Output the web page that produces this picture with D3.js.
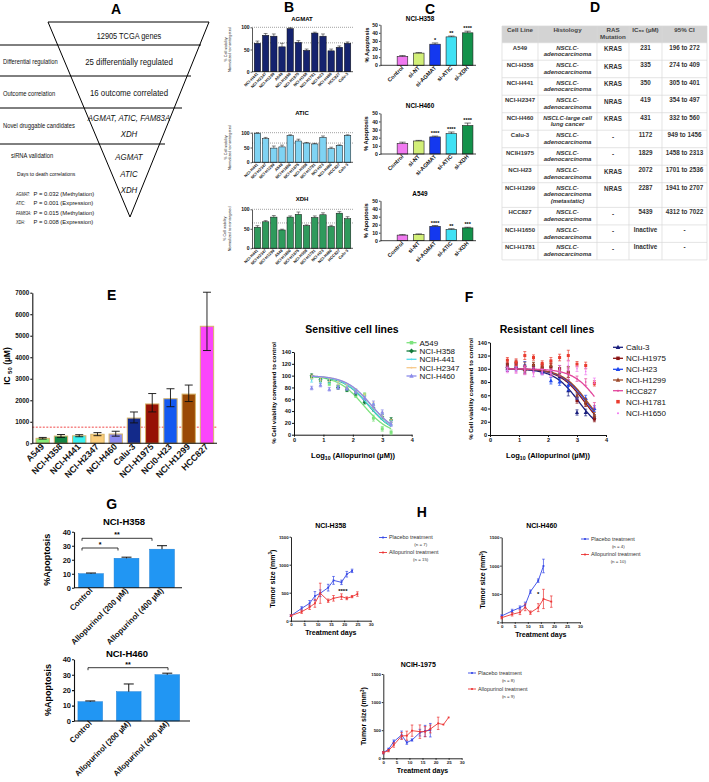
<!DOCTYPE html>
<html><head><meta charset="utf-8">
<script src="https://cdn.jsdelivr.net/npm/d3@7"></script>
<style>body{margin:0;background:#fff}svg{display:block}</style>
</head><body><svg id="c" width="709" height="782"></svg>
<script>
// ================= DATA =================
// Panel A
const funnelTiers = ["12905  TCGA genes", "25 differentially regulated", "16 outcome correlated"];
const funnelSteps = ["Differential regulation", "Outcome correlation", "Novel druggable candidates"];
const candidateGenes = ["AGMAT, ATIC, FAM83A", "XDH"];
const validatedGenes = ["AGMAT", "ATIC", "XDH"];
const survivalGenes = ["AGMAT:", "ATIC:", "FAM83A:", "XDH:"];
const survivalP = ["P = 0.032 (Methylation)", "P = 0.001 (Expression)", "P = 0.015 (Methylation)", "P = 0.008 (Expression)"];
// Panel B
const bCellLines = ["NCI-H441","NCI-H2347","NCI-H1299","A549","NCI-H1650","NCI-H1975","NCI-H358","NCI-H1781","NCI-H23","NCI-H460","HCC827","Calu-3"];
const bAGMAT = [64,82,80,56,97,66,48,87,80,47,55,64];
const bAGMATerr = [5,4,5,8,2,4,3,2,5,4,3,3];
const bATIC = [98,80,48,52,90,72,65,62,84,46,57,91];
const bATICerr = [2,4,7,6,3,6,2,2,5,5,2,2];
const bXDH = [54,68,80,47,80,87,58,79,86,56,90,76];
const bXDHerr = [4,3,4,2,3,6,2,4,5,3,4,5];
// Panel C
const cGroups = ["Control","si-NT","si-AGMAT","si-ATIC","si-XDH"];
const cH358 = [11,15,26,35,40], cH358err = [1,0.7,1.5,1,2], cH358sig = ["","","*","**","****"];
const cH460 = [13,16,21,25,35], cH460err = [1.5,0.7,1,2,3], cH460sig = ["","","****","****","****"];
const cA549 = [7,8,18,14,16], cA549err = [0.6,0.5,1,1,0.8], cA549sig = ["","","****","**","***"];
// Panel D
const tHeader = [["Cell Line"],["Histology"],["RAS","Mutation"],["IC\u2085\u2080 (\u00b5M)"],["95% CI"]];
const tLines = ["A549","NCI-H358","NCI-H441","NCI-H2347","NCI-H460","Calu-3","NCIH1975","NCI-H23","NCI-H1299","HCC827","NCI-H1650","NCI-H1781"];
const tHist = [["NSCLC-","adenocarcinoma"],["NSCLC-","adenocarcinoma"],["NSCLC-","adenocarcinoma"],["NSCLC-","adenocarcinoma"],["NSCLC-large cell","lung cancer"],["NSCLC-","adenocarcinoma"],["NSCLC-","adenocarcinoma"],["NSCLC-","adenocarcinoma"],["NSCLC-","adenocarcinoma","(metastatic)"],["NSCLC-","adenocarcinoma"],["NSCLC-","adenocarcinoma"],["NSCLC-","adenocarcinoma"]];
const tRAS = ["KRAS","KRAS","KRAS","NRAS","KRAS","-","-","KRAS","NRAS","-","-","-"];
const tIC50 = ["231","335","350","419","431","1172","1829","2072","2287","5439","Inactive","Inactive"];
const tCI = ["196 to 272","274 to 409","305 to 401","354 to 497","332 to 560","949 to 1456","1458 to 2313","1701 to 2536","1941 to 2707","4312 to 7022","-","-"];
// Panel E
const eLines = ["A549","NCI-H358","NCI-H441","NCI-H2347","NCI-H460","Calu-3","NCI-H1975","NCI0-H23","NCI-H1299","HCC827"];
const eIC50 = [231,335,350,419,431,1172,1829,2072,2287,5439];
const eLow = [196,274,305,354,332,949,1458,1701,1941,4312];
const eHigh = [272,409,401,497,560,1456,2313,2536,2707,7022];
const eThreshold = 750;
const eTicks = [0,1000,2000,3000,4000,5000,6000,7000];
// Dose response (sensitive)
const sensDose = [0.6,0.9,1.2,1.5,1.8,2.1,2.4,2.7,3.0,3.3];
const sensNames = ["A549","NCI-H358","NCIH-441","NCI-H2347","NCI-H460"];
const sensLogIC50 = [2.36,2.53,2.54,2.62,2.63];
const sensA549 = [97,92,86,82,76,66,68,28,10,4];
const sensH358 = [100,93,92,80,76,70,55,45,30,25];
const sensH441 = [92,90,90,85,80,74,63,48,33,20];
const sensH2347 = [98,94,93,87,82,75,66,50,34,22];
const sensH460 = [79,84,77,80,78,72,62,52,38,18];
const sensErr = [3,3,3,3,3,3,3,5,4,4];
// Dose response (resistant)
const resDose = [0.6,0.9,1.2,1.5,1.8,2.1,2.4,2.7,3.0,3.3,3.6];
const resNames = ["Calu-3","NCI-H1975","NCI-H23","NCI-H1299","HCC827","NCI-H1781","NCI-H1650"];
const resLogIC50 = [3.07,3.26,3.32,3.36,3.74,null,null];
const resCalu3 = [104,104,100,100,98,97,88,67,34,34,27];
const resH1975 = [106,108,98,105,103,103,100,95,52,48,24];
const resH23 = [100,102,105,100,95,82,80,75,58,55,40];
const resH1299 = [103,106,104,106,102,105,97,95,60,50,30];
const resHCC827 = [100,100,99,98,96,95,94,92,85,80,45];
const resH1781 = [113,110,120,117,108,112,117,120,107,105,78];
const resH1650 = [98,98,97,92,95,93,100,105,100,96,82];
const resErr = [4,5,6,4,4,5,5,8,4,5,4];
// Panel G
const gGroups = ["Control","Allopurinol (200 \u00b5M)","Allopurinol (400 \u00b5M)"];
const gH358 = [10,21,27.5], gH358err = [0.5,0.8,2.5];
const gH460 = [12.5,19,30], gH460err = [0.5,5,1];
// Panel H
const hH358PlDays = [0,4,7,9,11,14,16,19,21,23];
const hH358Pl = [90,220,310,440,490,590,720,685,830,890];
const hH358PlErr = [15,30,50,80,60,60,70,40,50,30];
const hH358AlDays = [0,4,7,9,11,14,16,19,21,23,25];
const hH358Al = [90,160,240,310,490,357,400,430,400,430,476];
const hH358AlErr = [15,30,40,70,180,30,50,50,25,20,40];
const hH460PlDays = [0,4,7,9,11,14,16];
const hH460Pl = [112,200,259,306,541,735,994];
const hH460PlErr = [20,30,30,50,30,30,120];
const hH460AlDays = [0,4,7,9,11,14,16,19];
const hH460Al = [82,141,176,265,170,259,412,365];
const hH460AlErr = [20,30,40,60,30,70,170,100];
const hH1975PlDays = [0,2,4,7,9,11,14,16,18];
const hH1975Pl = [100,160,296,415,279,326,456,486,500];
const hH1975PlErr = [20,20,30,70,30,20,60,100,120];
const hH1975AlDays = [0,2,4,7,9,11,14,16,18,21,23,25];
const hH1975Al = [100,136,237,397,403,492,474,474,522,622,600,727];
const hH1975AlErr = [20,20,40,60,80,100,120,90,70,110,0,0];
const hTicksY = [0,500,1000,1500];
const hTicksX = [0,5,10,15,20,25,30];

// ================= DRAWING =================
const SANS = "'Liberation Sans', Arial, Helvetica, sans-serif";
const fmtInt = d3.format("d");
const svg = d3.select("#c");
function T(g,x,y,s,o){o=o||{};const t=g.append("text").attr("x",x).attr("y",y)
  .attr("font-size",o.s||6).attr("font-family",SANS).attr("text-anchor",o.a||"start")
  .attr("fill",o.c||"#000").text(s);
  if(o.b)t.attr("font-weight","bold"); if(o.i)t.attr("font-style","italic");
  if(o.r!=null)t.attr("transform",`rotate(${o.r},${x},${y})`); return t;}
function NT(g,x,y,s,size,sx,o){o=o||{};const t=g.append("text")
  .attr("transform",`translate(${x},${y}) scale(${sx},1)`).attr("font-size",size)
  .attr("font-family",SANS).attr("text-anchor",o.a||"start").attr("fill","#111").text(s);
  if(o.i)t.attr("font-style","italic"); if(o.b)t.attr("font-weight","bold"); return t;}
function panelLabel(x,y,s){T(svg,x,y,s,{s:14,b:1,a:"middle"});}

// ---------- Panel A ----------
(function(){
  const g=svg.append("g");
  panelLabel(116,13.5,"A");
  g.append("path").attr("d","M48,22L209,22L130,217Z").attr("fill","none").attr("stroke","#000").attr("stroke-width",1);
  [[45,201],[76,191],[108,182],[144,165]].forEach(p=>g.append("line").attr("x1",0).attr("x2",p[1]).attr("y1",p[0]).attr("y2",p[0]).attr("stroke","#000").attr("stroke-width",1));
  const tierY=[38.5,65,95.5];
  funnelTiers.forEach((s,i)=>NT(g,129,tierY[i],s,i===0?9:9.6,0.82,{a:"middle"}));
  const stepY=[64,95.5,128];
  funnelSteps.forEach((s,i)=>NT(g,3,stepY[i],s,6.6,0.88));
  NT(g,129,121,candidateGenes[0],9.6,0.82,{a:"middle",i:1});
  NT(g,129,136.5,candidateGenes[1],9.6,0.82,{a:"middle",i:1});
  [160,176.5,192.5].forEach((y,i)=>NT(g,129,y,validatedGenes[i],9.6,0.82,{a:"middle",i:1}));
  NT(g,11,158,"siRNA validation",6.6,0.88);
  NT(g,17,176,"Days to death correlations",5.6,0.9);
  [195.5,205,214.5,224].forEach((y,i)=>{NT(g,16,y,survivalGenes[i],5.2,0.72,{i:1});NT(g,33.5,y,survivalP[i],5.6,1.05);});
})();

// ---------- generic bar chart ----------
function barChart(o){
  const g=svg.append("g");
  const x=d3.scaleBand().domain(o.cats).range(o.xr).paddingInner(o.pi).paddingOuter(o.po);
  const y=d3.scaleLinear().domain([0,o.yMax]).range([o.y0,o.yT]);
  (o.refs||[]).forEach(r=>g.append("line").attr("x1",o.ax).attr("x2",o.axEnd).attr("y1",y(r)).attr("y2",y(r))
     .attr("stroke","#444").attr("stroke-width",0.5).attr("stroke-dasharray","1,1"));
  if(o.thr!=null) g.append("line").attr("x1",o.ax).attr("x2",o.axEnd).attr("y1",y(o.thr)).attr("y2",y(o.thr))
     .attr("stroke","#e33").attr("stroke-width",0.9).attr("stroke-dasharray","2,1.5");
  g.selectAll("rect.bar").data(o.vals).join("rect").attr("class","bar")
    .attr("x",(d,i)=>x(o.cats[i])).attr("y",d=>y(d)).attr("width",x.bandwidth()).attr("height",d=>y(0)-y(d))
    .attr("fill",(d,i)=>Array.isArray(o.fill)?o.fill[i]:o.fill).attr("stroke",o.stroke).attr("stroke-width",o.sw);
  const cw=o.cap||x.bandwidth()*0.3;
  o.vals.forEach((v,i)=>{
    const cx=x(o.cats[i])+x.bandwidth()/2;
    const hi=o.hi?o.hi[i]:v+o.errs[i], lo=o.lo?o.lo[i]:v;
    g.append("line").attr("x1",cx).attr("x2",cx).attr("y1",y(lo)).attr("y2",y(hi)).attr("stroke","#111").attr("stroke-width",o.ew);
    g.append("line").attr("x1",cx-cw).attr("x2",cx+cw).attr("y1",y(hi)).attr("y2",y(hi)).attr("stroke","#111").attr("stroke-width",o.ew);
    if(o.lo) g.append("line").attr("x1",cx-cw).attr("x2",cx+cw).attr("y1",y(lo)).attr("y2",y(lo)).attr("stroke","#111").attr("stroke-width",o.ew);
    if(o.sig&&o.sig[i]) T(g,cx,y(hi)-0.8,o.sig[i],{s:o.sigS||6,a:"middle",b:1});
  });
  const gy=g.append("g").attr("transform",`translate(${o.ax},0)`)
    .call(d3.axisLeft(y).tickValues(o.ticks).tickFormat(fmtInt).tickSize(o.ts).tickSizeOuter(0).tickPadding(o.tp||1));
  gy.selectAll("text").attr("font-size",o.tfs).attr("font-weight","bold").attr("font-family",SANS).attr("fill","#111");
  gy.selectAll("path,line").attr("stroke","#111").attr("stroke-width",o.aw);
  g.append("line").attr("x1",o.ax).attr("x2",o.axEnd).attr("y1",o.y0).attr("y2",o.y0).attr("stroke","#111").attr("stroke-width",o.aw);
  o.cats.forEach((c,i)=>{const cx=x(c)+x.bandwidth()/2+(o.lx||0);
    T(g,cx,o.y0+o.ly,c,{s:o.lfs,b:o.lb,a:"end",r:-45,c:"#111"});});
  if(o.title) T(g,o.title[0],o.title[1],o.title[2],{s:o.title[3],b:1,a:"middle"});
  return {g,x,y};
}

// ---------- Panel B ----------
panelLabel(289,12,"B");
const bPanels=[
  {name:"AGMAT",vals:bAGMAT,errs:bAGMATerr,fill:"#15236e",yT:27.3,y0:71.7,ty:21},
  {name:"ATIC",vals:bATIC,errs:bATICerr,fill:"#7fd3f3",yT:132.7,y0:162.3,ty:114.5},
  {name:"XDH",vals:bXDH,errs:bXDHerr,fill:"#2f9a5c",yT:209.3,y0:248.3,ty:200.5}];
bPanels.forEach(p=>{
  const r=barChart({cats:bCellLines,vals:p.vals,errs:p.errs,fill:p.fill,stroke:"#111",sw:0.5,
    xr:[253,352],pi:0.22,po:0.15,yMax:100,yT:p.yT,y0:p.y0,ax:252,axEnd:353,refs:[100,65],
    ticks:[0,50,100],ts:1.5,tfs:5,aw:0.7,ew:0.5,lfs:4,lb:1,ly:2.5,lx:1,
    title:[302,p.ty,p.name,6]});
  const cy=(p.yT+p.y0)/2;
  T(r.g,226.5,cy,"% Cell viability",{s:3.8,a:"middle",r:-90,c:"#222"});
  T(r.g,231,cy,"Normalized to nontargeted",{s:3.8,a:"middle",r:-90,c:"#222"});
});

// ---------- Panel C ----------
panelLabel(430,13.5,"C");
const cColors=["#f07af0","#d2ef78","#1438ef","#3fe1f4","#13924b"];
[{t:"NCI-H358",v:cH358,e:cH358err,s:cH358sig,yT:24.7,y0:65.3,ty:21},
 {t:"NCI-H460",v:cH460,e:cH460err,s:cH460sig,yT:113.3,y0:154,ty:108},
 {t:"A549",v:cA549,e:cA549err,s:cA549sig,yT:200.7,y0:240.7,ty:195.5}].forEach(p=>{
  const r=barChart({cats:cGroups,vals:p.v,errs:p.e,fill:cColors,stroke:"#222",sw:0.6,
    xr:[394.3,475.8],pi:0.35,po:0.175,yMax:50,yT:p.yT,y0:p.y0,ax:380.5,axEnd:476,
    ticks:[0,10,20,30,40,50],ts:1.5,tfs:5.2,aw:0.8,ew:0.6,lfs:5.6,lb:1,ly:3,lx:1.5,sig:p.s,sigS:5.5,
    title:[420,p.ty,p.t,6.4]});
  T(r.g,368.5,(p.yT+p.y0)/2,"% Apoptosis",{s:5.8,b:1,a:"middle",r:-90});
});

// ---------- Panel D (table) ----------
(function(){
  panelLabel(595,12,"D");
  const g=svg.append("g");
  const colX=[502,538,597,629,662,707];
  const rowH=tHist.map(h=>h.length===3?24.7:17.5);
  const top=26, headH=16.7;
  g.append("rect").attr("x",colX[0]).attr("y",top).attr("width",colX[5]-colX[0]).attr("height",headH).attr("fill","#d3d3d3");
  let ys=[top,top+headH]; rowH.forEach(h=>ys.push(ys[ys.length-1]+h));
  ys.forEach(y=>g.append("line").attr("x1",colX[0]).attr("x2",colX[5]).attr("y1",y).attr("y2",y).attr("stroke","#d8d8d8").attr("stroke-width",0.7));
  colX.forEach(x=>g.append("line").attr("x1",x).attr("x2",x).attr("y1",top).attr("y2",ys[ys.length-1]).attr("stroke","#d8d8d8").attr("stroke-width",0.7));
  const cx=colX.slice(0,5).map((x,i)=>(x+colX[i+1])/2);
  tHeader.forEach((h,i)=>h.forEach((s,j)=>T(g,cx[i],32.3+j*7,s,{s:6.2,b:1,a:"middle",c:"#444"})));
  tLines.forEach((s,r)=>{
    const y=ys[r+1]+7;
    T(g,cx[0],y,s,{s:6,b:1,a:"middle",c:"#333"});
    tHist[r].forEach((h,j)=>T(g,cx[1],y+j*6.7,h,{s:6,b:1,i:1,a:"middle",c:"#333"}));
    T(g,cx[2],y+1.5,tRAS[r],{s:6.3,b:1,a:"middle",c:"#333"});
    T(g,cx[3],y,tIC50[r],{s:6.3,b:1,a:"middle",c:"#333"});
    T(g,cx[4],y,tCI[r],{s:6.3,b:1,a:"middle",c:"#333"});
  });
})();

// ---------- Panel E ----------
panelLabel(111.7,300,"E");
(function(){
  const eColors=["#86ec78","#128645","#38efef","#fbcd7a","#8a8af0","#132a8a","#961205","#1459f0","#9a4a05","#fb45fb"];
  const r=barChart({cats:eLines,vals:eIC50,lo:eLow,hi:eHigh,fill:eColors,stroke:"#d6b46a",sw:1,
    xr:[33.6,216.1],pi:0.27,po:0.135,yMax:7000,yT:292.7,y0:443.3,ax:32.3,axEnd:217,thr:eThreshold,
    ticks:eTicks,ts:2,tfs:6.3,aw:1.1,ew:0.9,cap:4,lfs:8.8,lb:1,ly:4,lx:2});
  const t=r.g.append("text").attr("transform","translate(9.5,366) rotate(-90)").attr("text-anchor","middle")
    .attr("font-family",SANS).attr("font-weight","bold").attr("font-size",8.5);
  t.append("tspan").text("IC ");
  t.append("tspan").attr("font-size",6).attr("dy",2).text("50");
  t.append("tspan").attr("dy",-2).text(" (\u00b5M)");
})();

// ---------- markers ----------
function marker(g,type,cx,cy,sz,col){
  if(type==="square") g.append("rect").attr("x",cx-sz/2).attr("y",cy-sz/2).attr("width",sz).attr("height",sz).attr("fill",col);
  else if(type==="diamond") g.append("path").attr("d",`M${cx},${cy-sz*0.7}L${cx+sz*0.7},${cy}L${cx},${cy+sz*0.7}L${cx-sz*0.7},${cy}Z`).attr("fill",col);
  else if(type==="triangle") g.append("path").attr("d",`M${cx},${cy-sz*0.65}L${cx+sz*0.6},${cy+sz*0.45}L${cx-sz*0.6},${cy+sz*0.45}Z`).attr("fill",col);
  else if(type==="circle") g.append("circle").attr("cx",cx).attr("cy",cy).attr("r",sz/2).attr("fill",col);
}

// ---------- dose response panels ----------
function dosePanel(o){
  const g=svg.append("g");
  const x=d3.scaleLinear().domain([0,4]).range([o.ax,o.x4]);
  const y=d3.scaleLinear().domain([0,140]).range([o.y0,o.yT]);
  const gx=g.append("g").attr("transform",`translate(0,${o.y0})`).call(d3.axisBottom(x).tickValues([0,1,2,3,4]).tickFormat(fmtInt).tickSize(2).tickSizeOuter(0).tickPadding(1));
  const gy=g.append("g").attr("transform",`translate(${o.ax},0)`).call(d3.axisLeft(y).tickValues(d3.range(0,141,20)).tickFormat(fmtInt).tickSize(2).tickSizeOuter(0).tickPadding(1));
  [gx,gy].forEach(a=>{a.selectAll("text").attr("font-size",5.6).attr("font-weight","bold").attr("font-family",SANS).attr("fill","#111");
    a.selectAll("path,line").attr("stroke","#111").attr("stroke-width",1);});
  const line=d3.line().x(d=>x(d[0])).y(d=>y(d[1]));
  o.series.forEach(s=>{
    if(s.ic!=null){
      const xs=d3.range(s.dose[0],s.dose[s.dose.length-1]+0.001,0.02);
      g.append("path").attr("d",line(xs.map(v=>[v,100/(1+Math.pow(10,(v-s.ic)*o.hill))]))).attr("fill","none").attr("stroke",s.col).attr("stroke-width",1.3);
    }
    s.vals.forEach((v,i)=>{const cx=x(s.dose[i]),e=o.err[i];
      g.append("line").attr("x1",cx).attr("x2",cx).attr("y1",y(v-e)).attr("y2",y(v+e)).attr("stroke",s.col).attr("stroke-width",0.7);
      [v-e,v+e].forEach(w=>g.append("line").attr("x1",cx-1.5).attr("x2",cx+1.5).attr("y1",y(w)).attr("y2",y(w)).attr("stroke",s.col).attr("stroke-width",0.7));
      marker(g,s.mk,cx,y(v),s.ms,s.col);});
  });
  o.series.forEach((s,i)=>{const ly=o.legY[i];
    if(s.ic!=null) g.append("line").attr("x1",o.legX).attr("x2",o.legX+10).attr("y1",ly).attr("y2",ly).attr("stroke",s.col).attr("stroke-width",1.3);
    marker(g,s.mk,o.legX+5,ly,s.ms+0.5,s.col);
    T(g,o.legX+13,ly+2.8,s.name,{s:8,c:"#111"});});
  T(g,o.tx,333,o.title,{s:10.5,b:1,a:"middle"});
  const xl=g.append("text").attr("x",o.xlx).attr("y",458).attr("text-anchor","middle").attr("font-family",SANS).attr("font-weight","bold").attr("font-size",7.5);
  xl.append("tspan").text("Log");xl.append("tspan").attr("font-size",5.2).attr("dy",2).text("10");
  xl.append("tspan").attr("dy",-2).text(" (Allopurinol (\u00b5M))");
  T(g,o.ylx,o.yly,"% Cell viability compared to control",{s:6,b:1,a:"middle",r:-90});
}
dosePanel({ax:294,x4:411.7,y0:434.7,yT:352,hill:1,err:sensErr,title:"Sensitive cell lines",tx:352,xlx:353,ylx:276,yly:393,
  legX:406.5,legY:[342.7,351,359.3,367.7,376],
  series:[
    {name:sensNames[0],dose:sensDose,vals:sensA549,ic:sensLogIC50[0],col:"#7de37d",mk:"square",ms:3},
    {name:sensNames[1],dose:sensDose,vals:sensH358,ic:sensLogIC50[1],col:"#137a3c",mk:"diamond",ms:3},
    {name:sensNames[2],dose:sensDose,vals:sensH441,ic:sensLogIC50[2],col:"#52dbea",mk:"circle",ms:1.2},
    {name:sensNames[3],dose:sensDose,vals:sensH2347,ic:sensLogIC50[3],col:"#f7c98a",mk:"circle",ms:1.2},
    {name:sensNames[4],dose:sensDose,vals:sensH460,ic:sensLogIC50[4],col:"#8b8bea",mk:"triangle",ms:3.2}]});
T(svg,469,302,"F",{s:14,b:1,a:"middle"});
dosePanel({ax:490,x4:606,y0:435,yT:342.3,hill:1,err:resErr,title:"Resistant cell lines",tx:547,xlx:548,ylx:472.5,yly:389,
  legX:613,legY:[347.3,358.3,369.3,380,390.7,401.7,413.3],
  series:[
    {name:resNames[0],dose:resDose,vals:resCalu3,ic:resLogIC50[0],col:"#1a1f7e",mk:"triangle",ms:3.4},
    {name:resNames[1],dose:resDose,vals:resH1975,ic:resLogIC50[1],col:"#8a1414",mk:"square",ms:3},
    {name:resNames[2],dose:resDose,vals:resH23,ic:resLogIC50[2],col:"#1f48ee",mk:"triangle",ms:3.4},
    {name:resNames[3],dose:resDose,vals:resH1299,ic:resLogIC50[3],col:"#9c4a2a",mk:"triangle",ms:3.2},
    {name:resNames[4],dose:resDose,vals:resHCC827,ic:resLogIC50[4],col:"#e2469c",mk:"circle",ms:1.6},
    {name:resNames[5],dose:resDose,vals:resH1781,ic:null,col:"#ea3b2e",mk:"square",ms:3},
    {name:resNames[6],dose:resDose,vals:resH1650,ic:null,col:"#f07af0",mk:"circle",ms:1.6}]});

// ---------- Panel G ----------
panelLabel(111.7,508.5,"G");
function sigBracket(g,x1,x2,y,s){
  g.append("path").attr("d",`M${x1},${y+2.5}V${y}H${x2}V${y+2.5}`).attr("fill","none").attr("stroke","#222").attr("stroke-width",0.9);
  T(g,(x1+x2)/2,y-1,s,{s:7,b:1,a:"middle"});
}
(function(){
  const r1=barChart({cats:gGroups,vals:gH358,errs:gH358err,fill:"#2196f3",stroke:"#1a7fd6",sw:0.5,
    xr:[73.25,179.75],pi:0.3,po:0.15,yMax:40,yT:531.7,y0:587.7,ax:74,axEnd:182,
    ticks:[0,10,20,30,40],ts:2,tfs:7.5,aw:1.1,ew:1,cap:5,lfs:8,lb:1,ly:3.5,lx:2,
    title:[124,525,"NCI-H358",9.5]});
  T(r1.g,50.5,559.7,"%Apoptosis",{s:9,b:1,a:"middle",r:-90});
  sigBracket(r1.g,82,152,538.3,"**");
  sigBracket(r1.g,82,118,548,"*");
  const r2=barChart({cats:gGroups,vals:gH460,errs:gH460err,fill:"#2196f3",stroke:"#1a7fd6",sw:0.5,
    xr:[71,186.5],pi:0.36,po:0.18,yMax:40,yT:659.3,y0:721,ax:74,axEnd:190,
    ticks:[0,10,20,30,40],ts:2,tfs:7.5,aw:1.1,ew:1,cap:5,lfs:7.8,lb:1,ly:3,lx:2,
    title:[127,657,"NCI-H460",9.5]});
  T(r2.g,50.5,690,"%Apoptosis",{s:9,b:1,a:"middle",r:-90});
  sigBracket(r2.g,88,168,667.7,"**");
})();

// ---------- Panel H ----------
T(svg,421.7,517,"H",{s:14,b:1,a:"middle"});
function tumor(o){
  const g=svg.append("g");
  const x=d3.scaleLinear().domain([0,30]).range([o.ax,o.x30]);
  const y=d3.scaleLinear().domain([0,1500]).range([o.y0,o.yT]);
  const gx=g.append("g").attr("transform",`translate(0,${o.y0})`).call(d3.axisBottom(x).tickValues(hTicksX).tickFormat(fmtInt).tickSize(1.5).tickSizeOuter(0).tickPadding(0.8));
  const gy=g.append("g").attr("transform",`translate(${o.ax},0)`).call(d3.axisLeft(y).tickValues(hTicksY).tickFormat(fmtInt).tickSize(1.5).tickSizeOuter(0).tickPadding(0.8));
  [gx,gy].forEach(a=>{a.selectAll("text").attr("font-size",4.4).attr("font-weight","bold").attr("font-family",SANS).attr("fill","#222");
    a.selectAll("path,line").attr("stroke","#111").attr("stroke-width",0.9);});
  const line=d3.line().x(d=>x(d[0])).y(d=>y(d[1]));
  o.series.forEach(s=>{
    g.append("path").attr("d",line(s.days.map((d,i)=>[d,s.vals[i]]))).attr("fill","none").attr("stroke",s.col).attr("stroke-width",0.9);
    s.vals.forEach((v,i)=>{const cx=x(s.days[i]),e=s.errs[i];
      if(e>0){g.append("line").attr("x1",cx).attr("x2",cx).attr("y1",y(v-e)).attr("y2",y(v+e)).attr("stroke",s.col).attr("stroke-width",0.7);
        [v-e,v+e].forEach(w=>g.append("line").attr("x1",cx-1.3).attr("x2",cx+1.3).attr("y1",y(w)).attr("y2",y(w)).attr("stroke",s.col).attr("stroke-width",0.7));}
      marker(g,"square",cx,y(v),1.8,s.col);});
  });
  T(g,o.tx,o.ty,o.title,{s:7,b:1,a:"middle"});
  T(g,(o.ax+o.x30)/2,o.y0+14.5,"Treatment days",{s:7,b:1,a:"middle"});
  const yl=g.append("text").attr("transform",`translate(${o.ylx},${(o.y0+o.yT)/2}) rotate(-90)`).attr("text-anchor","middle")
    .attr("font-family",SANS).attr("font-weight","bold").attr("font-size",7);
  yl.append("tspan").text("Tumor size (mm");yl.append("tspan").attr("font-size",4.5).attr("dy",-2.5).text("3");yl.append("tspan").attr("dy",2.5).text(")");
  o.series.forEach((s,i)=>{const ly=o.legY[i];
    g.append("line").attr("x1",o.legX).attr("x2",o.legX+8).attr("y1",ly).attr("y2",ly).attr("stroke",s.col).attr("stroke-width",0.9);
    marker(g,"square",o.legX+4,ly,1.8,s.col);
    T(g,o.legX+10,ly+1.8,s.name,{s:5.4,c:"#333"});
    T(g,o.nx,ly+8.5,s.n,{s:4.4,a:"middle",c:"#333"});});
  if(o.star) T(g,x(o.star[0]),y(o.star[1]),o.star[2],{s:6,b:1,a:"middle"});
}
tumor({ax:291,x30:370.7,y0:620.7,yT:536.7,title:"NCI-H358",tx:330.7,ty:528,ylx:274.5,legX:379,legY:[537.5,552.5],nx:420.7,
  star:[19.5,500,"****"],
  series:[{name:"Placebo treatment",n:"(n = 7)",days:hH358PlDays,vals:hH358Pl,errs:hH358PlErr,col:"#3547e6"},
          {name:"Allopurinol treatment",n:"(n = 15)",days:hH358AlDays,vals:hH358Al,errs:hH358AlErr,col:"#ec3434"}]});
tumor({ax:501.7,x30:580,y0:622.3,yT:537.3,title:"NCI-H460",tx:541.7,ty:528,ylx:485,legX:581,legY:[539,554.5],nx:618.3,
  star:[14,470,"*"],
  series:[{name:"Placebo treatment",n:"(n = 4)",days:hH460PlDays,vals:hH460Pl,errs:hH460PlErr,col:"#3547e6"},
          {name:"Allopurinol treatment",n:"(n = 10)",days:hH460AlDays,vals:hH460Al,errs:hH460AlErr,col:"#ec3434"}]});
tumor({ax:383.3,x30:461.7,y0:758.3,yT:674,title:"NCIH-1975",tx:418.3,ty:667,ylx:366,legX:468,legY:[673,689],nx:508.3,
  series:[{name:"Placebo treatment",n:"(n = 8)",days:hH1975PlDays,vals:hH1975Pl,errs:hH1975PlErr,col:"#3547e6"},
          {name:"Allopurinol treatment",n:"(n = 9)",days:hH1975AlDays,vals:hH1975Al,errs:hH1975AlErr,col:"#ec3434"}]});
</script></body></html>
